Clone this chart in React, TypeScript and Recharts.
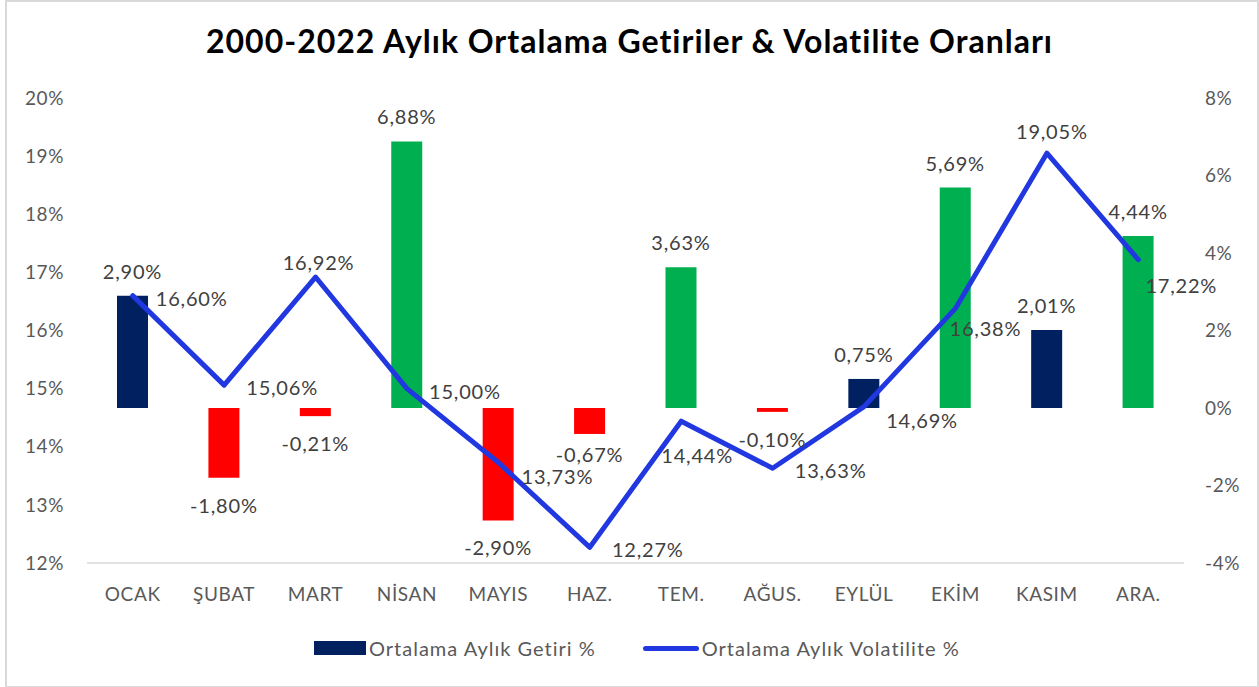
import { ComposedChart, Bar, Line, XAxis, YAxis, Cell, LabelList } from 'recharts'

const months = ['OCAK', 'ŞUBAT', 'MART', 'NİSAN', 'MAYIS', 'HAZ.', 'TEM.', 'AĞUS.', 'EYLÜL', 'EKİM', 'KASIM', 'ARA.']
const avgReturn = [2.9, -1.8, -0.21, 6.88, -2.9, -0.67, 3.63, -0.1, 0.75, 5.69, 2.01, 4.44]
const avgVolatility = [16.6, 15.06, 16.92, 15.0, 13.73, 12.27, 14.44, 13.63, 14.69, 16.38, 19.05, 17.22]
const volTicks = [12, 13, 14, 15, 16, 17, 18, 19, 20]
const retTicks = [-4, -2, 0, 2, 4, 6, 8]

// where each volatility label sits relative to its point (dx, dy of text centre)
const volLabelShift: [number, number][] = [
  [59, 2], [58, 2], [3, -15], [58, 2], [59, 14], [58, 2],
  [16, 34], [58, 2], [58, 13], [30, 20], [5, -22], [43, 25],
]
// extra vertical nudge for a few return labels (HAZ. was pulled up in the original)
const retLabelNudge = [0, 0, 0, 0, 0, -7, 0, 0, 0, 0, 0, 0]

const FONT = 'Lato, "Open Sans", sans-serif'
const NAVY = '#002060'
const GREEN = '#00B050'
const RED = '#FF0000'
const BLUE = '#2137E0'

const data = months.map((m, i) => ({ month: m, ret: avgReturn[i], vol: avgVolatility[i] }))

const pct = (v: number) => `${v.toFixed(2).replace('.', ',')}%`
const barColor = (v: number) => (v < 0 ? RED : v >= 3 ? GREEN : NAVY)

const labelStyle = { fill: '#404040', fontSize: 20, fontFamily: FONT, letterSpacing: 0.8 }

function BarLabel(props: any) {
  const vb = props.viewBox || props
  const x = vb.x
  const y = vb.y
  const w = vb.width
  const h = vb.height
  const v = Number(props.value)
  const i = props.index ?? avgReturn.indexOf(v)
  const top = Math.min(y, y + h)
  const bottom = Math.max(y, y + h)
  const ty = (v < 0 ? bottom + 27 : top - 25) + (retLabelNudge[i] || 0)
  return (
    <text x={x + w / 2} y={ty} textAnchor="middle" dominantBaseline="central" style={labelStyle}>
      {pct(v)}
    </text>
  )
}

function VolLabel(props: any) {
  const vb = props.viewBox || props
  const x = vb.x ?? props.x
  const y = vb.y ?? props.y
  const i = props.index ?? avgVolatility.indexOf(Number(props.value))
  const [dx, dy] = volLabelShift[i] || [58, 2]
  return (
    <text x={x + dx} y={y + dy} textAnchor="middle" dominantBaseline="central" style={labelStyle}>
      {pct(Number(props.value))}
    </text>
  )
}

const tickStyle = { fill: '#595959', fontSize: 19, fontFamily: FONT, letterSpacing: 0.6 }

export default function App() {
  return (
    <div style={{ position: 'absolute', left: 0, top: 0, width: 1259, height: 687, background: '#fff', fontFamily: FONT }}>
      <div style={{ position: 'absolute', left: 5, top: 0, width: 1250, height: 684, border: '2px solid #d9d9d9' }} />
      <div style={{ position: 'absolute', left: 0, top: 21, width: 1259, textAlign: 'center', fontSize: 32, fontWeight: 700, letterSpacing: 1, color: '#000' }}>
        2000-2022 Aylık Ortalama Getiriler &amp; Volatilite Oranları
      </div>
      <div style={{ position: 'absolute', left: 0, top: 0 }}>
        <ComposedChart width={1259} height={687} data={data} margin={{ top: 98, right: 0, bottom: 84, left: 0 }} barSize={31}>
          <XAxis
            dataKey="month"
            height={40}
            tickLine={false}
            tickSize={0}
            tickMargin={25}
            axisLine={{ stroke: '#d9d9d9', strokeWidth: 1.5 }}
            tick={tickStyle}
          />
          <YAxis
            yAxisId="vol"
            width={87}
            domain={[12, 20]}
            ticks={volTicks}
            tickFormatter={(v) => `${v}%`}
            axisLine={false}
            tickLine={false}
            tickSize={0}
            tickMargin={23}
            tick={tickStyle}
          />
          <YAxis
            yAxisId="ret"
            orientation="right"
            width={75}
            domain={[-4, 8]}
            ticks={retTicks}
            tickFormatter={(v) => `${v}%`}
            axisLine={false}
            tickLine={false}
            tickSize={0}
            tickMargin={21}
            tick={{ ...tickStyle, textAnchor: 'start' }}
          />
          <Bar yAxisId="ret" dataKey="ret" name="Ortalama Aylık Getiri %" isAnimationActive={false}>
            {data.map((d) => (
              <Cell key={d.month} fill={barColor(d.ret)} />
            ))}
            <LabelList dataKey="ret" content={BarLabel} />
          </Bar>
          <Line
            yAxisId="vol"
            dataKey="vol"
            name="Ortalama Aylık Volatilite %"
            type="linear"
            stroke={BLUE}
            strokeWidth={5}
            strokeLinecap="round"
            strokeLinejoin="round"
            dot={false}
            activeDot={false}
            isAnimationActive={false}
          >
            <LabelList dataKey="vol" content={VolLabel} />
          </Line>
        </ComposedChart>
      </div>
      <div style={{ position: 'absolute', left: 314, top: 636, height: 24, display: 'flex', alignItems: 'center', fontSize: 20, letterSpacing: 1, color: '#595959' }}>
        <span style={{ width: 52, height: 14, background: NAVY, display: 'inline-block' }} />
        <span style={{ marginLeft: 3 }}>Ortalama Aylık Getiri %</span>
        <span style={{ width: 56, height: 5, borderRadius: 3, background: BLUE, display: 'inline-block', marginLeft: 47 }} />
        <span style={{ marginLeft: 3 }}>Ortalama Aylık Volatilite %</span>
      </div>
    </div>
  )
}
